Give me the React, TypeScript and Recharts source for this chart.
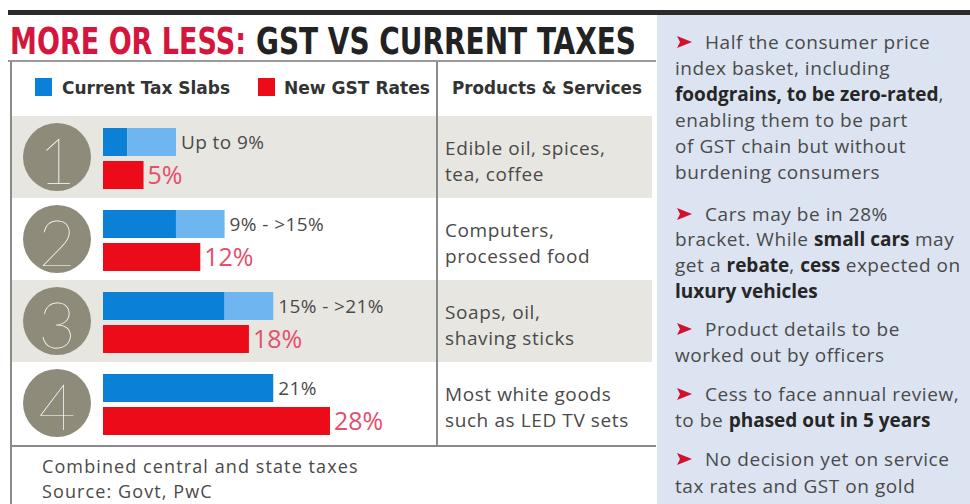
import React from 'react';
import { BarChart, Bar, XAxis, YAxis, LabelList } from 'recharts';

// one entry per numbered row
const rowNumbers = ['1', '2', '3', '4'];
const slabBase = [3, 9, 15, 21];
const slabRange = [6, 6, 6, 0];
const gstRates = [5, 12, 18, 28];
const slabLabels = ['Up to 9%', '9% - >15%', '15% - >21%', '21%'];
const gstLabels = ['5%', '12%', '18%', '28%'];
const products = [
  ['Edible oil, spices,', 'tea, coffee'],
  ['Computers,', 'processed food'],
  ['Soaps, oil,', 'shaving sticks'],
  ['Most white goods', 'such as LED TV sets'],
];

// *text* = bold
const notes = [
  ['Half the consumer price', 'index basket, including', '*foodgrains, to be zero-rated*,', 'enabling them to be part', 'of GST chain but without', 'burdening consumers'],
  ['Cars may be in 28%', 'bracket. While *small cars* may', 'get a *rebate*, *cess* expected on', '*luxury vehicles*'],
  ['Product details to be', 'worked out by officers'],
  ['Cess to face annual review,', 'to be *phased out in 5 years*'],
  ['No decision yet on service', 'tax rates and GST on gold'],
];
const noteLineY = [
  [42, 68, 94, 120, 146, 172],
  [214, 239, 265, 291],
  [329, 355],
  [394, 420],
  [459, 486],
];

const DARK_BLUE = '#0a80d6';
const LIGHT_BLUE = '#6db6ef';
const RED = '#ec0c19';
const FONT = '"Open Sans", "Noto Sans", sans-serif';
const HEAD_FONT = '"DejaVu Sans Condensed", "DejaVu Sans", sans-serif';

const rowTop = 117;
const rowH = 82;
const TITLE_SX = 0.72;

function NoteLine({ text, x, y }: { text: string; x: number; y: number }) {
  const parts = text.split('*');
  const common = { x, y, dominantBaseline: 'central' as const, fontFamily: FONT, fontSize: 19, letterSpacing: 0.55 };
  if (parts.length === 1) {
    return <text {...common} fill="#4a4a4a">{text}</text>;
  }
  return (
    <text {...common} fill="#4a4a4a">
      {parts.map((p, i) => (
        <tspan key={i} fontWeight={i % 2 === 1 ? 700 : 400} fill={i % 2 === 1 ? '#262626' : '#4a4a4a'} letterSpacing={i % 2 === 1 ? 0 : 0.55}>{p}</tspan>
      ))}
    </text>
  );
}

function TitlePart({ x, width, fill, children }: { x: number; width: number; fill: string; children: string }) {
  return (
    <g transform={`translate(${x},54) scale(${TITLE_SX},1)`}>
      <text x={0} y={0} fontFamily={HEAD_FONT} fontWeight={700} fontSize={37} fill={fill} textLength={width / TITLE_SX} lengthAdjust="spacingAndGlyphs">
        {children}
      </text>
    </g>
  );
}

function SlabLabel(props: any) {
  const { x, y, width, height, value } = props;
  const i = slabLabels.indexOf(value);
  if (i < 0) return null;
  const endX = Number(x) + (Number(width) * (slabBase[i] + slabRange[i])) / slabBase[i];
  return (
    <text x={endX + 5} y={Number(y) + Number(height) / 2} dominantBaseline="central" fontFamily={FONT} fontSize={19} letterSpacing={0.4} fill="#4a4a4a">
      {value}
    </text>
  );
}

export default function App() {
  const data = rowNumbers.map((r, i) => ({
    row: r,
    base: slabBase[i],
    range: slabRange[i],
    gst: gstRates[i],
    slab: slabLabels[i],
    rate: gstLabels[i],
  }));

  return (
    <div style={{ position: 'absolute', left: 0, top: 0, width: 970, height: 504, background: '#fff', overflow: 'hidden' }}>
      <svg width={970} height={504} style={{ position: 'absolute', left: 0, top: 0 }}>
        {/* top rule */}
        <rect x={8} y={10} width={962} height={5} fill="#2b2b2b" />

        {/* title */}
        <TitlePart x={10} width={236} fill="#d4163c">MORE OR LESS:</TitlePart>
        <TitlePart x={256} width={380} fill="#222">GST VS CURRENT TAXES</TitlePart>
        <line x1={8} y1={61} x2={656} y2={61} stroke="#9a9a9a" strokeWidth={2} />

        {/* left frame */}
        <line x1={11} y1={61} x2={11} y2={504} stroke="#8a8a8a" strokeWidth={2} />

        {/* legend header */}
        <rect x={35} y={78} width={17} height={18} fill={DARK_BLUE} />
        <text x={62} y={88} dominantBaseline="central" fontFamily={HEAD_FONT} fontWeight={700} fontSize={17} fill="#333" textLength={168} lengthAdjust="spacingAndGlyphs">Current Tax Slabs</text>
        <rect x={258} y={78} width={17} height={18} fill={RED} />
        <text x={284} y={88} dominantBaseline="central" fontFamily={HEAD_FONT} fontWeight={700} fontSize={17} fill="#333" textLength={146} lengthAdjust="spacingAndGlyphs">New GST Rates</text>
        <text x={452} y={88} dominantBaseline="central" fontFamily={HEAD_FONT} fontWeight={700} fontSize={17} fill="#333" textLength={190} lengthAdjust="spacingAndGlyphs">Products &amp; Services</text>

        {/* row backgrounds */}
        {rowNumbers.map((r, i) => (
          <rect key={'bg' + r} x={12} y={rowTop + i * rowH - 1} width={640} height={rowH} fill={i % 2 === 0 ? '#e7e6e1' : '#ffffff'} />
        ))}

        {/* numbered circles */}
        {rowNumbers.map((r, i) => (
          <g key={'c' + r}>
            <circle cx={57} cy={rowTop + i * rowH + 40} r={34} fill="#8e8b7b" />
            <text x={57} y={rowTop + i * rowH + 42} textAnchor="middle" dominantBaseline="central" fontFamily='"Lato", "Open Sans", sans-serif' fontWeight={200} fontSize={64} fill="#fff">{r}</text>
          </g>
        ))}

        {/* products */}
        {products.map((lines, i) =>
          lines.map((l, j) => (
            <text key={'p' + i + j} x={445} y={rowTop + i * rowH + 31 + j * 26} dominantBaseline="central" fontFamily={FONT} fontSize={19} fill="#4a4a4a" letterSpacing={0.6}>{l}</text>
          ))
        )}

        {/* column divider and bottom rule */}
        <line x1={437} y1={62} x2={437} y2={446} stroke="#8a8a8a" strokeWidth={2} />
        <line x1={11} y1={446} x2={656} y2={446} stroke="#8a8a8a" strokeWidth={2} />

        {/* footer */}
        <text x={42} y={466} dominantBaseline="central" fontFamily={FONT} fontSize={18} fill="#4a4a4a" letterSpacing={1.1}>Combined central and state taxes</text>
        <text x={42} y={491} dominantBaseline="central" fontFamily={FONT} fontSize={18} fill="#4a4a4a" letterSpacing={1.1}>Source: Govt, PwC</text>

        {/* notes panel */}
        <rect x={657} y={15} width={313} height={489} fill="#dbe4f0" />
        {notes.map((lines, i) => (
          <g key={'n' + i}>
            <polygon
              points={`677,${noteLineY[i][0] - 6} 692,${noteLineY[i][0]} 677,${noteLineY[i][0] + 6} 680,${noteLineY[i][0]}`}
              fill="#d0122f"
            />
            {lines.map((l, j) => (
              <NoteLine key={j} text={l} x={j === 0 ? 705 : 675} y={noteLineY[i][j]} />
            ))}
          </g>
        ))}
      </svg>

      <div style={{ position: 'absolute', left: 0, top: rowTop }}>
        <BarChart
          width={437}
          height={rowH * 4}
          data={data}
          layout="vertical"
          margin={{ top: 0, right: 0, left: 103, bottom: 0 }}
          barSize={28}
          barGap={5}
          barCategoryGap={0}
        >
          <XAxis type="number" hide domain={[0, 41.2]} />
          <YAxis type="category" dataKey="row" hide />
          <Bar dataKey="base" stackId="slab" fill={DARK_BLUE} isAnimationActive={false}>
            <LabelList dataKey="slab" content={SlabLabel} />
          </Bar>
          <Bar dataKey="range" stackId="slab" fill={LIGHT_BLUE} isAnimationActive={false} />
          <Bar dataKey="gst" fill={RED} isAnimationActive={false}>
            <LabelList dataKey="rate" position="right" offset={4} fill="#e2506c" fontSize={25} fontFamily={FONT} />
          </Bar>
        </BarChart>
      </div>
    </div>
  );
}
